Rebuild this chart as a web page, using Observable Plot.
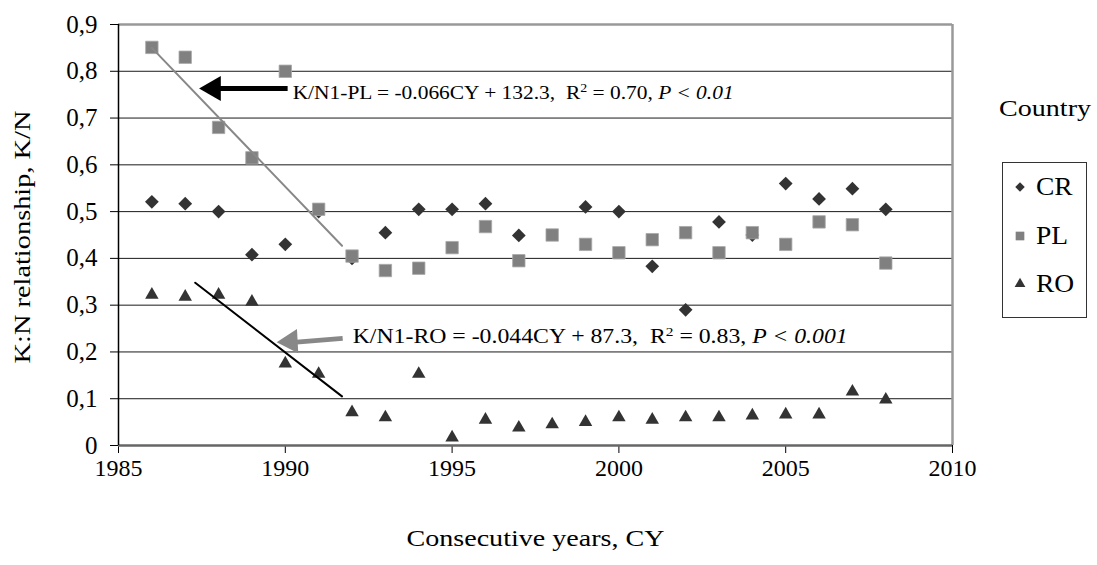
<!DOCTYPE html>
<html><head><meta charset="utf-8">
<script src="https://cdn.jsdelivr.net/npm/d3@7"></script>
<script src="https://cdn.jsdelivr.net/npm/@observablehq/plot@0.6"></script>
<style>
body{margin:0;background:#fff;}
#wrap{position:relative;width:1097px;height:565px;font-family:"Liberation Serif",serif;}
#legtitle{position:absolute;left:999px;top:96px;font-size:24px;line-height:1;transform:scaleX(1.17);transform-origin:left center;}
#legbox{position:absolute;left:1002px;top:162px;width:85px;height:156px;border:1.5px solid #333;box-sizing:border-box;}
.item{position:absolute;left:0;height:26px;font-size:25px;line-height:26px;}
.item svg{position:absolute;left:10px;top:6px;}
.item span{position:absolute;left:33px;transform:scaleX(1.1);transform-origin:left center;}
</style></head><body><div id="wrap"></div>
<script>
const years = [1986,1987,1988,1989,1990,1991,1992,1993,1994,1995,1996,1997,1998,1999,2000,2001,2002,2003,2004,2005,2006,2007,2008];
const CR = [0.521,0.517,0.500,0.408,0.430,0.500,0.400,0.455,0.505,0.505,0.517,0.449,null,0.510,0.500,0.383,0.290,0.478,0.450,0.560,0.527,0.549,0.505];
const PL = [0.851,0.830,0.680,0.615,0.800,0.505,0.405,0.374,0.379,0.423,0.468,0.395,0.450,0.430,0.412,0.440,0.455,0.412,0.455,0.430,0.478,0.472,0.390];
const RO = [0.322,0.318,0.322,0.307,0.175,0.153,0.071,0.060,0.153,0.017,0.055,0.038,0.045,0.050,0.060,0.055,0.060,0.060,0.064,0.066,0.066,0.115,0.098];
const countries = ["CR","PL","RO"];
const xTicks = [1985,1990,1995,2000,2005,2010];
const yTicks = [0,0.1,0.2,0.3,0.4,0.5,0.6,0.7,0.8,0.9];
const gridY = [0.1,0.2,0.3,0.4,0.5,0.6,0.7,0.8];
// trend line endpoints as drawn in the figure
const trendPLx = [1986, 1991.7], trendPLy = [0.85, 0.427];
const trendROx = [1987.3, 1991.7], trendROy = [0.348, 0.105];
// annotation arrows (tail -> tip)
const arrowPL = {x1:1990.07, y1:0.763, x2:1987.43, y2:0.763};
const arrowRO = {x1:1991.72, y1:0.229, x2:1989.74, y2:0.220};
const labelPL = {x:1990.22, y:0.754, text:"K/N1-PL = -0.066CY + 132.3,  R2 = 0.70, P < 0.01", width:441};
const labelRO = {x:1992.02, y:0.233, text:"K/N1-RO = -0.044CY + 87.3,  R2 = 0.83, P < 0.001", width:495};
const xTitle = "Consecutive years, CY";
const yTitle = "K:N relationship, K/N";

const rows = years.map((yr,i)=>({year:yr, CR:CR[i], PL:PL[i], RO:RO[i]}));
const tPL = trendPLx.map((x,i)=>({x, y:trendPLy[i]}));
const tRO = trendROx.map((x,i)=>({x, y:trendROy[i]}));
const fmt = d => d === 0 ? "0" : d.toFixed(1).replace(".", ",");

const chart = Plot.plot({
  width:1097, height:565,
  marginLeft:118, marginRight:145, marginTop:24, marginBottom:120,
  x:{domain:[1985,2010]},
  y:{domain:[0,0.9]},
  style:{fontFamily:'"Liberation Serif", serif', fontSize:"24px", color:"#000", background:"#fff", overflow:"visible"},
  marks:[
    Plot.ruleY(gridY, {stroke:"#1a1a1a", strokeWidth:1}),
    Plot.ruleY([0.9], {stroke:"#999", strokeWidth:2.5}),
    Plot.ruleX([2010], {stroke:"#999", strokeWidth:2.5}),
    Plot.axisX({ticks:xTicks, tickFormat:d=>String(d), tickSize:8, tickPadding:5, label:null, fontSize:24}),
    Plot.axisY({ticks:yTicks, tickFormat:fmt, tickSize:8, tickPadding:13, label:null, fontSize:25}),
    Plot.ruleY([0], {stroke:"#666", strokeWidth:2.5}),
    Plot.ruleX([1985], {stroke:"#000", strokeWidth:1.5}),
    Plot.dot(rows, {x:"year", y:"CR", symbol:"diamond2", r:6.2, fill:"#333", stroke:"none"}),
    Plot.dot(rows, {x:"year", y:"PL", symbol:"square", r:7.0, fill:"#808080", stroke:"#a8a8a8", strokeWidth:0.8}),
    Plot.dot(rows, {x:"year", y:"RO", symbol:"triangle", r:5.0, fill:"#333", stroke:"none"}),
    Plot.line(tPL, {x:"x", y:"y", stroke:"#888", strokeWidth:2}),
    Plot.line(tRO, {x:"x", y:"y", stroke:"#000", strokeWidth:2}),
    Plot.link([arrowPL], {x1:"x1", y1:"y1", x2:d=>d.x2+0.6, y2:"y2", stroke:"#000", strokeWidth:5}),
    Plot.dot([arrowPL], {x:"x2", y:"y2", symbol:"triangle", r:9.3, rotate:-90, dx:14, fill:"#000", stroke:"none"}),
    Plot.link([arrowRO], {x1:"x1", y1:"y1", x2:d=>d.x2+0.6, y2:d=>d.y2+0.001, stroke:"#888", strokeWidth:5}),
    Plot.dot([arrowRO], {x:"x2", y:"y2", symbol:"triangle", r:9.0, rotate:-93, dx:14, dy:-1, fill:"#888", stroke:"none"}),
    Plot.text([labelPL], {x:"x", y:"y", text:"text", textAnchor:"start", fontSize:19}),
    Plot.text([labelRO], {x:"x", y:"y", text:"text", textAnchor:"start", fontSize:20.5}),
    Plot.text([xTitle], {text:d=>d, frameAnchor:"bottom", dy:100, fontSize:24}),
    Plot.text([yTitle], {text:d=>d, frameAnchor:"left", textAnchor:"middle", rotate:-90, dx:-96, dy:2, fontSize:24})
  ]
});
document.getElementById("wrap").appendChild(chart);

const NS = "http://www.w3.org/2000/svg";
const allText = () => Array.from(chart.querySelectorAll("text"));
// rich formatting of regression labels: superscript 2 and italic P-part
[labelPL, labelRO].forEach(lab => {
  const el = allText().find(t => t.textContent === lab.text);
  if (!el) return;
  const iR = lab.text.indexOf("R2");
  const iP = lab.text.indexOf("P <");
  const parts = [
    {t: lab.text.slice(0, iR+1)},
    {t: "2", sup:true},
    {t: lab.text.slice(iR+2, iP), down:true},
    {t: lab.text.slice(iP), it:true}
  ];
  el.textContent = "";
  el.style.whiteSpace = "pre";
  parts.forEach(p => {
    const ts = document.createElementNS(NS, "tspan");
    ts.textContent = p.t;
    if (p.sup) { ts.setAttribute("dy", "-7"); ts.setAttribute("font-size", "0.65em"); }
    if (p.down) ts.setAttribute("dy", "7");
    if (p.it) ts.setAttribute("font-style", "italic");
    el.appendChild(ts);
  });
  el.setAttribute("textLength", lab.width);
  el.setAttribute("lengthAdjust", "spacingAndGlyphs");
});
// axis titles stretched to the reference's widths
[[xTitle, 258], [yTitle, 253]].forEach(([s, w]) => {
  const el = allText().find(t => t.textContent === s);
  if (el) { el.setAttribute("textLength", w); el.setAttribute("lengthAdjust", "spacingAndGlyphs"); }
});

// legend
const wrap = document.getElementById("wrap");
const title = document.createElement("div");
title.id = "legtitle"; title.textContent = "Country";
wrap.appendChild(title);
const box = document.createElement("div");
box.id = "legbox"; wrap.appendChild(box);
const legSym = {CR:"diamond2", PL:"square", RO:"triangle"};
const legFill = {CR:"#333", PL:"#808080", RO:"#333"};
const legSize = {CR:4.3, PL:4.9, RO:4.0};
const symMap = {diamond2:d3.symbolDiamond2, square:d3.symbolSquare, triangle:d3.symbolTriangle};
countries.forEach((c,i) => {
  const it = document.createElement("div");
  it.className = "item";
  it.style.top = (11 + i*48.5) + "px";
  const r = legSize[c];
  const path = d3.symbol(symMap[legSym[c]], Math.PI*r*r)();
  it.innerHTML = `<svg width="14" height="14" viewBox="-7 -7 14 14"><path d="${path}" fill="${legFill[c]}"/></svg><span>${c}</span>`;
  box.appendChild(it);
});
</script>
</body></html>
